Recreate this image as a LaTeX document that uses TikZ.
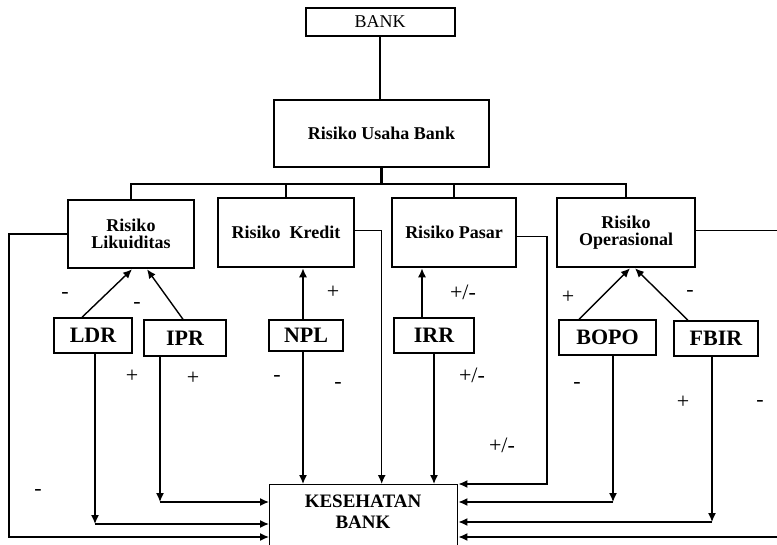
\documentclass[tikz,border=0pt]{standalone}
\usepackage{fontspec}
\setmainfont{Liberation Serif}
\usetikzlibrary{arrows.meta,calc}
\begin{document}
\begin{tikzpicture}[x=1pt,y=-1pt,
 topbox/.style={draw, line width=2pt, inner sep=0pt, font=\fontsize{18}{20}\selectfont},
 bigbox/.style={draw, line width=2.6pt, inner sep=0pt, align=center, font=\fontsize{18}{17.5}\selectfont\bfseries},
 smallbox/.style={draw, line width=1.4pt, inner sep=0pt, font=\fontsize{22}{24}\selectfont\bfseries},
 kesbox/.style={draw, line width=1.4pt, inner sep=0pt},
 kestext/.style={inner sep=0pt, align=center, font=\fontsize{19}{21}\selectfont\bfseries},
 conn/.style={line width=1.4pt},
 arr/.style={line width=1.4pt, -{Latex[length=9pt,width=8pt]}},
 sign/.style={font=\fontsize{22}{24}\selectfont, inner sep=0pt},
 bus/.style={line width=2.6pt}
]
\clip (0,0) rectangle (777,545);
\fill[white] (0,0) rectangle (777,545);

% boxes
\node[topbox, minimum width=149, minimum height=28] (bank) at (380,22) {BANK};
\node[bigbox, minimum width=215, minimum height=67] (rub) at (381.5,133.5) {Risiko Usaha Bank};
\node[bigbox, minimum width=126, minimum height=68] (lik) at (131,234) {Risiko\\Likuiditas};
\node[bigbox, minimum width=136, minimum height=69] (kre) at (286,232.5) {Risiko~ Kredit};
\node[bigbox, minimum width=124, minimum height=69] (pas) at (454,232.5) {Risiko Pasar};
\node[bigbox, minimum width=138, minimum height=69] (ope) at (626,232.5) {Risiko\\Operasional};

\node[smallbox, minimum width=78, minimum height=35] (ldr) at (93,335.5) {LDR};
\node[smallbox, minimum width=82, minimum height=36] (ipr) at (185,338) {IPR};
\node[smallbox, minimum width=74, minimum height=31] (npl) at (306,335.5) {NPL};
\node[smallbox, minimum width=80, minimum height=35] (irr) at (434,335.5) {IRR};
\node[smallbox, minimum width=97, minimum height=35] (bopo) at (607.5,337.5) {BOPO};
\node[smallbox, minimum width=84, minimum height=35] (fbir) at (716,338.5) {FBIR};

\node[kesbox, anchor=north west, minimum width=188, minimum height=80] (kes) at (269,484) {};
\node[kestext, anchor=north] (kest) at (363,495) {KESEHATAN\\BANK};

% tree
\draw[conn] (bank.south) -- (bank.south |- rub.north);
\coordinate (busL) at (131,184);
\coordinate (busR) at (626,184);
\draw[line width=3pt] (rub.south) -- (rub.south |- busL);
\draw[bus] (lik.north) -- (busL) -- (busR) -- (ope.north);
\draw[bus] (kre.north) -- (kre.north |- busL);
\draw[bus] (pas.north) -- (pas.north |- busL);

% upward arrows
\draw[arr] ([xshift=-11pt]ldr.north) -- ([xshift=1pt]lik.south);
\draw[arr] ([xshift=-2pt]ipr.north) -- ([xshift=16pt]lik.south);
\draw[arr] ([xshift=-3pt]npl.north) -- ([xshift=-3pt]npl.north |- kre.south);
\draw[arr] ([xshift=-12pt]irr.north) -- ([xshift=-12pt]irr.north |- pas.south);
\draw[arr] ([xshift=-28.5pt]bopo.north) -- ([xshift=4pt]ope.south);
\draw[arr] ([xshift=-28pt]fbir.north) -- ([xshift=9pt]ope.south);

% connections to KESEHATAN BANK
\coordinate (cL) at (9,537);
\draw[arr] (lik.west) -| (cL) -- (cL -| kes.west);

\coordinate (cLDR) at (95,524);
\draw[arr] ([xshift=2pt]ldr.south) -- (cLDR);
\draw[arr] (cLDR) -- (cLDR -| kes.west);

\coordinate (cIPR) at (160,502);
\draw[arr] ([xshift=-25pt]ipr.south) -- (cIPR);
\draw[arr] (cIPR) -- (cIPR -| kes.west);

\draw[arr] ([xshift=-3pt]npl.south) -- ([xshift=-3pt]npl.south |- kes.north);
\draw[arr] ([yshift=2pt]kre.east) -| ([xshift=18pt]kes.north);
\draw[arr] (irr.south) -- (irr.south |- kes.north);

\coordinate (cP) at (547,484);
\draw[arr] ([yshift=-4pt]pas.east) -| (cP) -- (kes.north east);

\coordinate (cB) at (613,502);
\draw[arr] ([xshift=5.5pt]bopo.south) -- (cB);
\draw[arr] (cB) -- (cB -| kes.east);

\coordinate (cF) at (712,522);
\draw[arr] ([xshift=-4pt]fbir.south) -- (cF);
\draw[arr] (cF) -- (cF -| kes.east);

\coordinate (cO) at (795,537);
\draw[arr] ([yshift=2pt]ope.east) -| (cO) -- (cO -| kes.east);

% signs
\node[sign] (s1) at (65,295) {-};
\node[sign] (s2) at (137,305) {-};
\node[sign] (s3) at (333,292) {+};
\node[sign] (s4) at (463,292) {+/-};
\node[sign] (s5) at (568,297) {+};
\node[sign] (s6) at (690,293) {-};
\node[sign] (s7) at (132,376) {+};
\node[sign] (s8) at (193,378) {+};
\node[sign] (s9) at (277,378) {-};
\node[sign] (s10) at (338,385) {-};
\node[sign] (s11) at (38,492) {-};
\node[sign] (s12) at (472,375) {+/-};
\node[sign] (s13) at (577,385) {-};
\node[sign] (s14) at (502,445) {+/-};
\node[sign] (s15) at (683,402) {+};
\node[sign] (s16) at (760,403) {-};
\end{tikzpicture}
\end{document}
